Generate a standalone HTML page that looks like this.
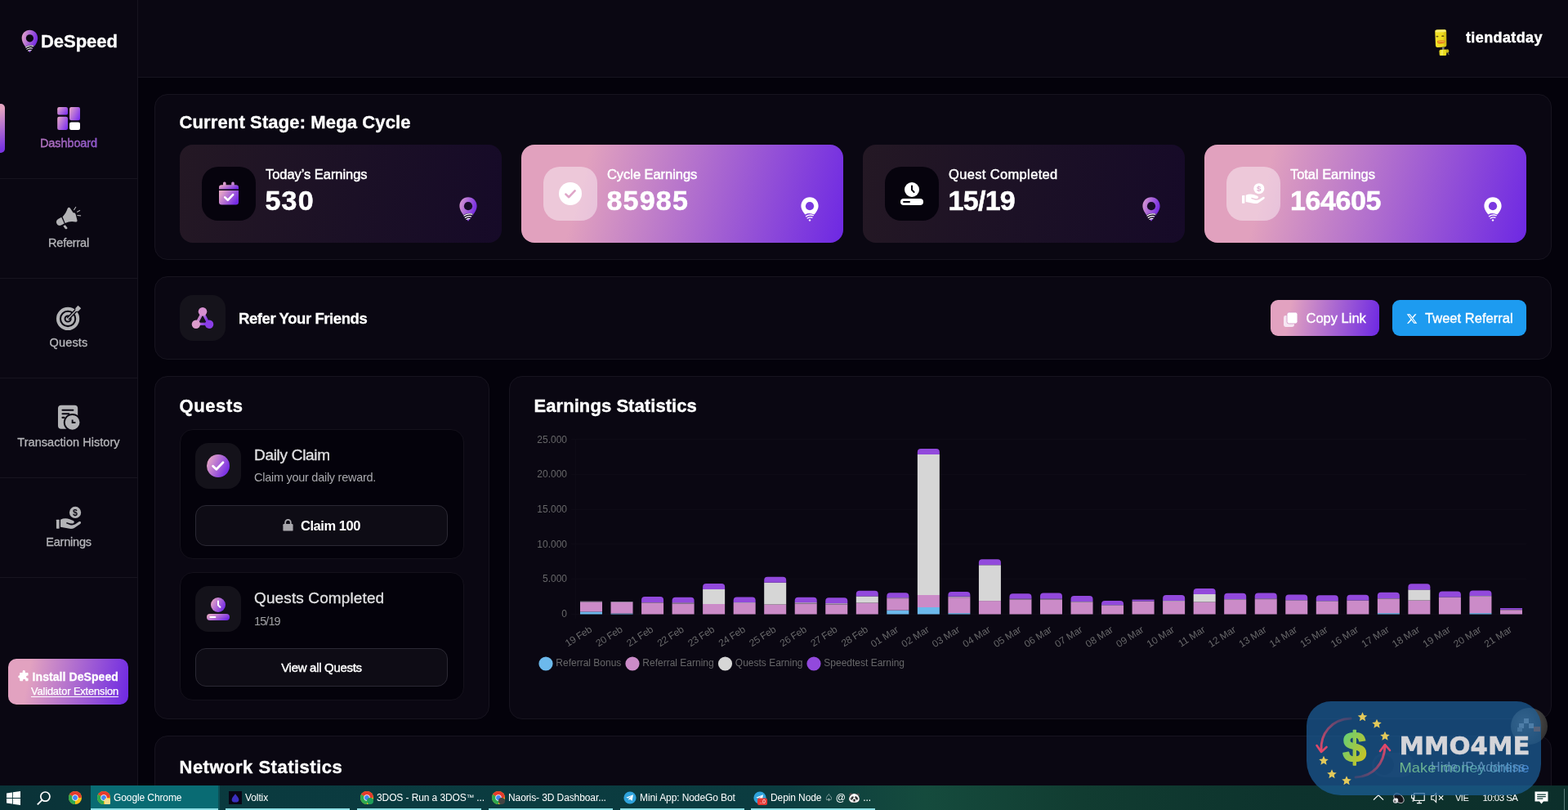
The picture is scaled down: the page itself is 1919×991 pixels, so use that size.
<!DOCTYPE html>
<html lang="en">
<head>
<meta charset="utf-8">
<title>DeSpeed Dashboard</title>
<style>
*{box-sizing:border-box;margin:0;padding:0}
html,body{width:1919px;height:991px;overflow:hidden;background:#04020b}
body{position:relative;font-family:"Liberation Sans",sans-serif;color:#fff;-webkit-font-smoothing:antialiased}
.abs{position:absolute}
svg{display:block;overflow:visible}
.t{position:absolute;white-space:nowrap;line-height:1}

/* ---------- sidebar ---------- */
#sidebar{position:absolute;left:0;top:0;width:169px;height:961px;background:#0a0712;border-right:1px solid #17141f}
#header{position:absolute;left:169px;top:0;width:1750px;height:95px;background:#0a0712;border-bottom:1px solid #17141f}
.navsep{position:absolute;left:0;width:168px;height:1px;background:#17141f}
.navlabel{position:absolute;left:0;width:168px;text-align:center;font-size:14.5px;line-height:18px;color:#b6b6ba;letter-spacing:-0.2px;-webkit-text-stroke:0.3px #b6b6ba}
.navicon{position:absolute;left:69px;width:30px;height:30px}
#active-bar{position:absolute;left:0;top:127px;width:5.5px;height:60px;border-radius:0 5px 5px 0;background:linear-gradient(160deg,#e3a3c0 10%,#7a34e0 90%)}
#install{position:absolute;left:10px;top:806px;width:147px;height:56px;border-radius:10px;background:linear-gradient(100deg,#e2a2c0 18%,#6d28e3 100%)}

/* ---------- cards ---------- */
.card{position:absolute;background:#0a0712;border:1px solid #17141f;border-radius:16px}
.h2{position:absolute;white-space:nowrap;font-weight:700;font-size:22px;line-height:26px;letter-spacing:0.13px;color:#fff;-webkit-text-stroke:0.35px #fff}
.stat{position:absolute;top:177px;width:394px;height:120px;border-radius:16px}
.stat.dark{background:linear-gradient(100deg,#241824 0%,#1b1026 55%,#160a28 100%)}
.stat.lite{background:linear-gradient(105deg,#e1a1be 20%,#6d28e3 100%)}
.stat .ib{position:absolute;left:27px;top:27px;width:66px;height:66px;border-radius:20px}
.stat.dark .ib{background:#06030d}
.stat.lite .ib{background:rgba(255,255,255,.42)}
.stat .lbl{position:absolute;left:105px;top:26px;font-size:16.5px;line-height:20px;white-space:nowrap;color:#fff;letter-spacing:-0.05px;-webkit-text-stroke:0.45px #fff}
.stat .val{position:absolute;left:104.5px;top:48px;font-size:34px;line-height:40px;font-weight:700;white-space:nowrap;color:#fff;letter-spacing:1.2px;-webkit-text-stroke:0.5px #fff}
.stat .pin{position:absolute;left:341.8px;top:63.7px;width:22px;height:30px}

.qcard{position:absolute;left:220px;width:348px;background:#04020b;border:1px solid #14111b;border-radius:16px}
.qcard .ib{position:absolute;left:18px;top:16px;width:56px;height:56px;border-radius:16px;background:#14121a}
.qcard .ti{position:absolute;left:90px;font-size:19px;line-height:22px;color:#e0e0e2;white-space:nowrap;letter-spacing:-0.2px;-webkit-text-stroke:0.3px #e0e0e2}
.qcard .su{position:absolute;left:90px;font-size:14.5px;line-height:18px;color:#a8a8ad;white-space:nowrap;letter-spacing:-0.2px}
.qbtn{position:absolute;left:18px;width:309px;height:50px;border-radius:13px;background:#0e0c15;border:1px solid #2b2934;font-weight:700;font-size:15.5px;color:#fff;display:flex;align-items:center;justify-content:center;white-space:nowrap;letter-spacing:-0.2px}

/* chart */
#chart text{font-family:"Liberation Sans",sans-serif;font-size:12px;fill:#676769}

/* taskbar */
#taskbar{position:absolute;left:0;top:961px;width:1919px;height:30px;background:linear-gradient(90deg,#0a3237 0%,#0a3a3f 15%,#0b3c40 50%,#154b3d 59%,#113c31 69%,#0d332d 82%,#0c2f2b 100%);font-size:12px;color:#fff}
.tb-item{position:absolute;top:0;height:30px;line-height:30px;white-space:nowrap;color:#fff;font-size:12px;letter-spacing:-0.1px}
.tb-ul{position:absolute;top:28px;height:2px;background:#8fe0e6}
</style>
</head>
<body>

<!-- ================= HEADER ================= -->
<div id="header">
  <!-- avatar -->
  <svg class="abs" style="left:1571px;top:25px" width="50" height="50" viewBox="0 0 991 991">
    <defs>
      <linearGradient id="gav" x1="0" y1="0" x2="1" y2="0"><stop offset="0" stop-color="#f2e22a"/><stop offset="0.65" stop-color="#efdc1c"/><stop offset="1" stop-color="#c9b312"/></linearGradient>
    </defs>
    <path d="M322 266Q318 231 360 228L560 224Q598 224 598 266L602 600Q600 640 560 644L380 652Q340 652 336 615Z" fill="url(#gav)"/>
    <path d="M330 260Q330 230 372 228L556 224Q590 226 590 254Q590 280 552 282L372 288Q332 288 330 260Z" fill="#f7ee72"/>
    <ellipse cx="376" cy="388" rx="30" ry="17" fill="#6e5a12"/>
    <ellipse cx="510" cy="380" rx="32" ry="17" fill="#6e5a12"/>
    <path d="M378 496Q470 470 566 492Q572 540 540 552Q460 578 392 556Q372 530 378 496Z" fill="#e27a1e"/>
    <path d="M400 520Q470 500 548 516" stroke="#f4d24a" stroke-width="18" fill="none"/>
    <rect x="496" y="648" width="50" height="76" fill="#77767c"/>
    <path d="M424 740Q430 706 470 708L590 704Q602 706 602 730L598 838Q596 852 570 852L450 850Q430 850 430 826Z" fill="#eadb20"/>
    <path d="M470 716L520 712L512 846L462 846Z" fill="#f6ec56"/>
    <ellipse cx="622" cy="744" rx="38" ry="46" fill="#c9b814"/>
    <path d="M636 786L656 826" stroke="#6f6a52" stroke-width="20" stroke-linecap="round"/>
  </svg>
  <div class="t" style="left:1625px;top:35px;font-size:18px;line-height:22px;font-weight:700;letter-spacing:0.38px;-webkit-text-stroke:0.4px #fff">tiendatday</div>
</div>

<!-- ================= SIDEBAR ================= -->
<div id="sidebar">
  <!-- logo -->
  <svg class="abs" style="left:0;top:20px" width="170" height="88" viewBox="0 0 1914 991">
    <defs>
      <linearGradient id="gpin" x1="0" y1="0" x2="1" y2="0.35">
        <stop offset="0.05" stop-color="#e3a3c8"/><stop offset="0.95" stop-color="#7a30e2"/>
      </linearGradient>
    </defs>
    <path d="M410 188C472 188 520 236 520 300C520 372 452 438 410 498C368 438 300 372 300 300C300 236 348 188 410 188Z" fill="url(#gpin)"/>
    <circle cx="410" cy="302" r="52" fill="#0a0712"/>
    <path d="M340 425Q400 385 476 405L430 470Q408 462 388 478Z" fill="#0a0712"/>
    <path d="M356 428Q402 396 458 410" stroke="#fff" stroke-width="13" fill="none" stroke-linecap="round"/>
    <path d="M370 452Q404 428 444 438" stroke="#fff" stroke-width="12" fill="none" stroke-linecap="round"/>
    <path d="M386 474Q406 460 430 465" stroke="#fff" stroke-width="11" fill="none" stroke-linecap="round"/>
  </svg>
  <div class="t" style="left:50px;top:38px;font-size:22px;line-height:26px;font-weight:700;letter-spacing:-0.05px;-webkit-text-stroke:0.3px #fff">DeSpeed</div>

  <div id="active-bar"></div>

  <!-- Dashboard -->
  <svg class="abs" style="left:70px;top:131px" width="28" height="28" viewBox="0 0 28 28">
    <defs>
      <linearGradient id="gd" x1="0" y1="0.2" x2="1" y2="0.8">
        <stop offset="0" stop-color="#e0a0c8"/><stop offset="1" stop-color="#7c2ff0"/>
      </linearGradient>
    </defs>
    <rect x="0.2" y="0" width="12.8" height="9.6" rx="2.2" fill="url(#gd)"/>
    <rect x="15" y="0" width="13" height="16.2" rx="2.2" fill="url(#gd)"/>
    <rect x="0.2" y="11.8" width="12.8" height="16.2" rx="2.2" fill="url(#gd)"/>
    <rect x="15" y="18.4" width="13" height="9.6" rx="2.2" fill="#fff"/>
  </svg>
  <div class="navlabel" style="top:166px;-webkit-text-stroke:0.3px #9c62c0;letter-spacing:-0.1px"><span style="background:linear-gradient(90deg,#b878b4,#8650cc);-webkit-background-clip:text;background-clip:text;color:transparent">Dashboard</span></div>
  <div class="navsep" style="top:218px"></div>

  <!-- Referral -->
  <svg class="abs" style="left:40px;top:240px" width="90" height="70" viewBox="0 0 1274 991">
    <g fill="#b3b3b6">
      <path d="M498 366L446 392C408 412 402 448 418 478C436 512 470 514 500 500L548 476Z"/>
      <path d="M518 356C560 316 590 262 604 214Q622 180 648 206L702 286Q742 282 746 318L772 420Q774 452 740 446C680 430 620 440 562 466Z"/>
      <path d="M528 516L562 498L600 546Q606 566 586 570Q572 574 562 562Z"/>
    </g>
    <g stroke="#b3b3b6" stroke-width="15" stroke-linecap="round" fill="none">
      <path d="M716 236L746 190"/>
      <path d="M772 272L816 248"/>
      <path d="M776 334L830 338"/>
    </g>
  </svg>
  <div class="navlabel" style="top:288px">Referral</div>
  <div class="navsep" style="top:340px"></div>

  <!-- Quests -->
  <svg class="abs" style="left:40px;top:362px" width="90" height="70" viewBox="0 0 1274 991">
    <circle cx="610" cy="396" r="172" fill="none" stroke="#b3b3b6" stroke-width="56"/>
    <circle cx="610" cy="396" r="90" fill="none" stroke="#b3b3b6" stroke-width="50"/>
    <circle cx="610" cy="396" r="36" fill="#b3b3b6"/>
    <path d="M610 396L790 212" stroke="#0a0712" stroke-width="58" fill="none"/>
    <path d="M614 392L752 252" stroke="#b3b3b6" stroke-width="20" stroke-linecap="round" fill="none"/>
    <path d="M786 168L838 216L790 264L738 268L742 214Z" fill="#b3b3b6"/>
  </svg>
  <div class="navlabel" style="top:410px;letter-spacing:0.15px">Quests</div>
  <div class="navsep" style="top:462px"></div>

  <!-- Transaction History -->
  <svg class="abs" style="left:10px;top:484px" width="150" height="70" viewBox="0 0 1919 896">
    <rect x="780" y="150" width="310" height="372" rx="52" fill="#b3b3b6"/>
    <g stroke="#0a0712" stroke-width="26" stroke-linecap="round" fill="none">
      <path d="M850 228H1016"/><path d="M850 286H950"/><path d="M850 344H876"/>
    </g>
    <circle cx="1005" cy="420" r="126" fill="#b3b3b6" stroke="#0a0712" stroke-width="24"/>
    <path d="M1006 378V422H1054" stroke="#0a0712" stroke-width="24" fill="none"/>
  </svg>
  <div class="navlabel" style="top:532px;letter-spacing:0.05px">Transaction History</div>
  <div class="navsep" style="top:584px"></div>

  <!-- Earnings -->
  <svg class="abs" style="left:40px;top:606px" width="90" height="70" viewBox="0 0 1274 991">
    <g fill="#b3b3b6">
      <circle cx="737" cy="297" r="101"/>
      <rect x="410" y="422" width="52" height="154" rx="6"/>
      <path d="M482 420Q560 384 640 414L702 438Q736 456 706 484Q690 496 640 484L590 468L580 486L648 512Q700 524 740 500L800 458Q828 444 836 466Q840 480 824 494L720 566Q690 584 640 578L482 548Z"/>
    </g>
    <text x="737" y="347" text-anchor="middle" font-family="Liberation Sans, sans-serif" font-weight="700" font-size="150" fill="#0a0712">$</text>
  </svg>
  <div class="navlabel" style="top:654px">Earnings</div>
  <div class="navsep" style="top:706px"></div>

  <!-- Install button -->
  <div id="install">
    <svg class="abs" style="left:12.7px;top:15.2px" width="13.2" height="13" viewBox="0 0 15 15">
      <path d="M5.2 0.6a1.9 1.9 0 0 1 3.8 0.4v1.3h3.2a1 1 0 0 1 1 1v3h-1a1.9 1.9 0 0 0 0 3.8h1v3a1 1 0 0 1-1 1H9.4v-1a1.9 1.9 0 0 0-3.8 0v1H2.2a1 1 0 0 1-1-1V9.9H0.9a1.9 1.9 0 0 1 0-3.8h0.3V3.3a1 1 0 0 1 1-1h3z" fill="#fff"/>
    </svg>
    <div class="t" style="left:29.6px;top:12.6px;font-size:14px;line-height:18px;font-weight:700;letter-spacing:0.07px;-webkit-text-stroke:0.3px #fff">Install DeSpeed</div>
    <div class="t" style="right:12px;top:31.6px;font-size:12.8px;line-height:15px;text-decoration:underline;text-underline-offset:1.5px;letter-spacing:-0.12px;-webkit-text-stroke:0.25px #fff">Validator Extension</div>
  </div>
</div>

<!-- ================= MAIN ================= -->
<div id="main">
  <svg width="0" height="0" style="position:absolute">
    <defs>
      <linearGradient id="gpin2" x1="0" y1="0" x2="1" y2="0.4"><stop offset="0.05" stop-color="#d99ad0"/><stop offset="0.95" stop-color="#7a30e2"/></linearGradient>
      <linearGradient id="gic" x1="0" y1="0.25" x2="1" y2="0.75"><stop offset="0.05" stop-color="#e2a2c6"/><stop offset="0.95" stop-color="#742ae6"/></linearGradient>
    </defs>
  </svg>

  <!-- ===== Current stage ===== -->
  <div class="card" style="left:189px;top:115px;width:1710px;height:203px"></div>
  <div class="h2" style="left:219.5px;top:137px">Current Stage: Mega Cycle</div>

  <div class="stat dark" style="left:220px">
    <div class="ib">
      <svg class="abs" style="left:20px;top:18px" width="26" height="29" viewBox="0 0 26 29">
        <rect x="6" y="0.5" width="3.6" height="6" rx="1.6" fill="#d89ccc"/>
        <rect x="16.2" y="0.5" width="3.6" height="6" rx="1.6" fill="#c588d0"/>
        <path d="M1 7.5Q1 4.2 4.3 4.2H21.7Q25 4.2 25 7.5V9.6H1Z" fill="url(#gic)"/>
        <path d="M1 11H25V25.2Q25 28.5 21.7 28.5H4.3Q1 28.5 1 25.2Z" fill="url(#gic)"/>
        <path d="M8.2 19.4L11.8 22.8L18.2 16.2" stroke="#fff" stroke-width="2.6" fill="none" stroke-linecap="round" stroke-linejoin="round"/>
      </svg>
    </div>
    <div class="lbl">Today’s Earnings</div>
    <div class="val">530</div>
    <svg class="pin" viewBox="0 0 22 30"><path d="M11 0.3C17 0.3 21.6 4.9 21.6 11C21.6 17.8 15 24 11 29.8C7 24 0.4 17.8 0.4 11C0.4 4.9 5 0.3 11 0.3Z" fill="url(#gpin2)"/><circle cx="11" cy="11.2" r="5.1" fill="#170c27"/><path d="M4.4 22.6Q10.2 18.8 17.4 20.8L12.8 27Q10.8 26.2 9 27.8Z" fill="#170c27"/><g fill="none" stroke="#fff" stroke-linecap="round"><path d="M6 23Q10.4 19.9 15.8 21.2" stroke-width="1.3"/><path d="M7.3 25.3Q10.6 23 14.4 23.9" stroke-width="1.2"/><path d="M8.9 27.4Q10.8 26 13 26.5" stroke-width="1.1"/></g></svg>
  </div>

  <div class="stat lite" style="left:638px">
    <div class="ib">
      <svg class="abs" style="left:19px;top:19px" width="28" height="28" viewBox="0 0 28 28">
        <circle cx="14" cy="14" r="14" fill="#fff"/>
        <path d="M8.4 14.6L12.2 18.2L19.6 10.4" stroke="#dfa6c8" stroke-width="2.6" fill="none" stroke-linecap="round" stroke-linejoin="round"/>
      </svg>
    </div>
    <div class="lbl">Cycle Earnings</div>
    <div class="val">85985</div>
    <svg class="pin" viewBox="0 0 22 30"><path d="M11 0.3C17 0.3 21.6 4.9 21.6 11C21.6 15 19 18.6 16.4 21.6Q10.4 18.6 5.4 21.4C2.9 18.4 0.4 15 0.4 11C0.4 4.9 5 0.3 11 0.3Z" fill="#fff"/><circle cx="11" cy="11.2" r="5.1" fill="#7a38e0"/><g fill="none" stroke="#fff" stroke-linecap="round"><path d="M6.6 23.6Q10.6 21 15.2 22.6" stroke-width="1.5"/><path d="M8.2 26Q10.8 24.2 13.8 25.2" stroke-width="1.4"/></g><circle cx="11" cy="28.4" r="1.2" fill="#fff"/></svg>
  </div>

  <div class="stat dark" style="left:1056px">
    <div class="ib">
      <svg class="abs" style="left:19px;top:19px" width="28" height="28" viewBox="0 0 28 28">
        <circle cx="14" cy="9" r="9" fill="#fff"/>
        <path d="M14 4.4V9.4L16.6 12" stroke="#06030d" stroke-width="2" fill="none" stroke-linecap="round"/>
        <rect x="0" y="20" width="28" height="8" rx="4" fill="#fff"/>
        <rect x="3" y="23" width="9" height="2" rx="1" fill="#06030d"/>
      </svg>
    </div>
    <div class="lbl" style="letter-spacing:0.35px">Quest Completed</div>
    <div class="val" style="letter-spacing:-0.7px">15/19</div>
    <svg class="pin" viewBox="0 0 22 30"><path d="M11 0.3C17 0.3 21.6 4.9 21.6 11C21.6 17.8 15 24 11 29.8C7 24 0.4 17.8 0.4 11C0.4 4.9 5 0.3 11 0.3Z" fill="url(#gpin2)"/><circle cx="11" cy="11.2" r="5.1" fill="#170c27"/><path d="M4.4 22.6Q10.2 18.8 17.4 20.8L12.8 27Q10.8 26.2 9 27.8Z" fill="#170c27"/><g fill="none" stroke="#fff" stroke-linecap="round"><path d="M6 23Q10.4 19.9 15.8 21.2" stroke-width="1.3"/><path d="M7.3 25.3Q10.6 23 14.4 23.9" stroke-width="1.2"/><path d="M8.9 27.4Q10.8 26 13 26.5" stroke-width="1.1"/></g></svg>
  </div>

  <div class="stat lite" style="left:1474px">
    <div class="ib">
      <svg class="abs" style="left:19px;top:20px" width="28" height="25.2" viewBox="0 0 30 27">
        <g fill="#fff">
          <circle cx="22.3" cy="7.2" r="7"/>
          <rect x="0" y="16" width="3.6" height="10.6" rx="0.5"/>
          <path d="M5 15.8Q10.5 13.4 16 15.4L20.3 17Q22.6 18.3 20.6 20.2Q19.5 21 16 20.2L12.6 19.1L11.9 20.3L16.6 22.1Q20.2 22.9 23 21.3L27.2 18.4Q29.1 17.5 29.7 19Q30 20 28.8 20.9L21.6 25.9Q19.5 27.1 16 26.7L5 24.6Z"/>
        </g>
        <text x="22.3" y="10.8" text-anchor="middle" font-family="Liberation Sans, sans-serif" font-weight="700" font-size="10.5" fill="#e3b3d3">$</text>
      </svg>
    </div>
    <div class="lbl">Total Earnings</div>
    <div class="val" style="letter-spacing:-0.4px;left:105px">164605</div>
    <svg class="pin" viewBox="0 0 22 30"><path d="M11 0.3C17 0.3 21.6 4.9 21.6 11C21.6 15 19 18.6 16.4 21.6Q10.4 18.6 5.4 21.4C2.9 18.4 0.4 15 0.4 11C0.4 4.9 5 0.3 11 0.3Z" fill="#fff"/><circle cx="11" cy="11.2" r="5.1" fill="#7a38e0"/><g fill="none" stroke="#fff" stroke-linecap="round"><path d="M6.6 23.6Q10.6 21 15.2 22.6" stroke-width="1.5"/><path d="M8.2 26Q10.8 24.2 13.8 25.2" stroke-width="1.4"/></g><circle cx="11" cy="28.4" r="1.2" fill="#fff"/></svg>
  </div>

  <!-- ===== Refer ===== -->
  <div class="card" style="left:189px;top:338px;width:1710px;height:102px"></div>
  <div class="abs" style="left:220px;top:361px;width:56px;height:56px;border-radius:16px;background:#15131b">
    <svg class="abs" style="left:14px;top:14px" width="28" height="28" viewBox="0 0 28 28">
      <path d="M14 7L6.4 21.4H21.6Z" fill="none" stroke="url(#gic)" stroke-width="3.4" stroke-linejoin="round"/>
      <circle cx="14" cy="6.3" r="5.3" fill="#d690d0"/>
      <circle cx="5.9" cy="21.8" r="5.2" fill="#dc9ccc"/>
      <circle cx="22.1" cy="21.8" r="5.2" fill="#8a3ee6"/>
    </svg>
  </div>
  <div class="t" style="left:292px;top:379px;font-size:18.5px;line-height:22px;font-weight:700;letter-spacing:-0.42px;-webkit-text-stroke:0.3px #fff">Refer Your Friends</div>

  <div class="abs" style="left:1555px;top:367px;width:133px;height:44px;border-radius:9px;background:linear-gradient(100deg,#e2a2c0 18%,#6d28e3 100%)">
    <svg class="abs" style="left:16px;top:15px" width="17" height="18" viewBox="0 0 17 18">
      <rect x="0" y="4" width="13" height="14" rx="2.4" fill="#f6e6f2"/>
      <rect x="4" y="0" width="13" height="14" rx="2.4" fill="#fff" stroke="#d596c6" stroke-width="0.9"/>
    </svg>
    <div class="t" style="left:43.5px;top:11px;font-size:16.5px;line-height:22px;color:#fff;letter-spacing:0px;-webkit-text-stroke:0.35px #fff">Copy Link</div>
  </div>
  <div class="abs" style="left:1704px;top:367px;width:164px;height:44px;border-radius:9px;background:#1d9bf0">
    <svg class="abs" style="left:17px;top:16px" width="14" height="14" viewBox="0 0 24 24">
      <path d="M18.244 2.25h3.308l-7.227 8.26 8.502 11.24H16.17l-5.214-6.817L4.99 21.75H1.68l7.73-8.835L1.254 2.25H8.08l4.713 6.231zm-1.161 17.52h1.833L7.084 4.126H5.117z" fill="#fff"/>
    </svg>
    <div class="t" style="left:40px;top:11px;font-size:16.5px;line-height:22px;color:#fff;letter-spacing:0.03px;-webkit-text-stroke:0.35px #fff">Tweet Referral</div>
  </div>

  <!-- ===== Quests ===== -->
  <div class="card" style="left:189px;top:460px;width:410px;height:420px"></div>
  <div class="h2" style="left:219.5px;top:484px;letter-spacing:0.6px">Quests</div>

  <div class="qcard" style="top:525px;height:159px">
    <div class="ib">
      <svg class="abs" style="left:14px;top:14px" width="28" height="28" viewBox="0 0 28 28">
        <circle cx="14" cy="14" r="14" fill="url(#gic)"/>
        <path d="M7.6 14.2L11.8 18.2L20 9.8" stroke="#fff" stroke-width="2.8" fill="none" stroke-linecap="round" stroke-linejoin="round"/>
      </svg>
    </div>
    <div class="ti" style="top:20px;letter-spacing:-0.3px">Daily Claim</div>
    <div class="su" style="top:49px;letter-spacing:-0.27px">Claim your daily reward.</div>
    <div class="qbtn" style="top:92px;font-size:16.5px;letter-spacing:-0.45px">
      <svg width="13" height="15" viewBox="0 0 13 15" style="margin-right:9px;margin-top:-1px">
        <path d="M3.2 6V4.2a3.3 3.3 0 0 1 6.6 0V6" stroke="#a9a8ad" stroke-width="1.8" fill="none"/>
        <rect x="0.4" y="6" width="12.2" height="8.6" rx="1.2" fill="#a9a8ad"/>
      </svg>
      <span>Claim 100</span>
    </div>
  </div>

  <div class="qcard" style="top:700px;height:157px">
    <div class="ib">
      <svg class="abs" style="left:14px;top:14px" width="28" height="28" viewBox="0 0 28 28">
        <circle cx="14" cy="9" r="9" fill="url(#gic)"/>
        <path d="M14 4.6V9.4L16.4 11.8" stroke="#fff" stroke-width="2" fill="none" stroke-linecap="round"/>
        <rect x="0" y="20" width="28" height="8" rx="4" fill="url(#gic)"/>
        <rect x="3.4" y="23" width="8" height="2" rx="1" fill="#fff"/>
      </svg>
    </div>
    <div class="ti" style="top:20px;letter-spacing:0.12px">Quests Completed</div>
    <div class="su" style="top:50px;letter-spacing:-0.9px;color:#a0a0a4">15/19</div>
    <div class="qbtn" style="top:92px;height:47px;font-weight:400;font-size:15px;letter-spacing:-0.3px;-webkit-text-stroke:0.4px #fff">View all Quests</div>
  </div>

  <!-- ===== Earnings statistics ===== -->
  <div class="card" style="left:623px;top:460px;width:1276px;height:420px"></div>
  <div class="h2" style="left:653.5px;top:484px;letter-spacing:0.07px">Earnings Statistics</div>
  <!--CHART-START-->
<svg id="chart" class="abs" style="left:0;top:0" width="1919" height="961" viewBox="0 0 1919 961">
<g stroke="#0e0b16" stroke-width="1" shape-rendering="crispEdges">
<path d="M699 751.0H1868"/>
<path d="M699 708.4H1868"/>
<path d="M699 665.8H1868"/>
<path d="M699 623.1H1868"/>
<path d="M699 580.5H1868"/>
<path d="M699 537.9H1868"/>
<path d="M704.5 537V757"/>
</g>
<g text-anchor="end">
<text x="694" y="755.0">0</text>
<text x="694" y="711.9">5.000</text>
<text x="694" y="669.9">10.000</text>
<text x="694" y="627.1">15.000</text>
<text x="694" y="584.2">20.000</text>
<text x="694" y="542.0">25.000</text>
</g>
<rect x="710.00" y="748.40" width="27" height="3.10" fill="#6cb9ec"/>
<rect x="710.00" y="736.70" width="27" height="11.70" fill="#cb8bc8"/>
<rect x="710.00" y="735.70" width="27" height="1.00" fill="#a996b4"/>
<rect x="747.53" y="750.50" width="27" height="1.00" fill="#6cb9ec"/>
<rect x="747.53" y="736.90" width="27" height="13.60" fill="#cb8bc8"/>
<rect x="747.53" y="736.10" width="27" height="0.80" fill="#a996b4"/>
<rect x="785.07" y="737.50" width="27" height="14.00" fill="#cb8bc8"/>
<rect x="785.07" y="736.90" width="27" height="0.60" fill="#a996b4"/>
<path d="M785.07 736.90V734.10Q785.07 730.10 789.07 730.10H808.07Q812.07 730.10 812.07 734.10V736.90Z" fill="#9249dc"/>
<rect x="822.60" y="738.50" width="27" height="13.00" fill="#cb8bc8"/>
<rect x="822.60" y="737.20" width="27" height="1.30" fill="#a996b4"/>
<path d="M822.60 737.20V734.70Q822.60 730.70 826.60 730.70H845.60Q849.60 730.70 849.60 734.70V737.20Z" fill="#9249dc"/>
<rect x="860.13" y="739.00" width="27" height="12.50" fill="#cb8bc8"/>
<rect x="860.13" y="721.00" width="27" height="18.00" fill="#d6d6d6"/>
<path d="M860.13 721.00V718.00Q860.13 714.00 864.13 714.00H883.13Q887.13 714.00 887.13 718.00V721.00Z" fill="#9249dc"/>
<rect x="897.66" y="738.00" width="27" height="13.50" fill="#cb8bc8"/>
<rect x="897.66" y="737.00" width="27" height="1.00" fill="#a996b4"/>
<path d="M897.66 737.00V734.50Q897.66 730.50 901.66 730.50H920.66Q924.66 730.50 924.66 734.50V737.00Z" fill="#9249dc"/>
<rect x="935.20" y="739.50" width="27" height="12.00" fill="#cb8bc8"/>
<rect x="935.20" y="712.75" width="27" height="26.75" fill="#d6d6d6"/>
<path d="M935.20 712.75V709.75Q935.20 705.75 939.20 705.75H958.20Q962.20 705.75 962.20 709.75V712.75Z" fill="#9249dc"/>
<rect x="972.73" y="738.50" width="27" height="13.00" fill="#cb8bc8"/>
<rect x="972.73" y="737.00" width="27" height="1.50" fill="#a996b4"/>
<path d="M972.73 737.00V734.75Q972.73 730.75 976.73 730.75H995.73Q999.73 730.75 999.73 734.75V737.00Z" fill="#9249dc"/>
<rect x="1010.26" y="739.50" width="27" height="12.00" fill="#cb8bc8"/>
<rect x="1010.26" y="738.00" width="27" height="1.50" fill="#a996b4"/>
<path d="M1010.26 738.00V735.25Q1010.26 731.25 1014.26 731.25H1033.26Q1037.26 731.25 1037.26 735.25V738.00Z" fill="#9249dc"/>
<rect x="1047.80" y="737.50" width="27" height="14.00" fill="#cb8bc8"/>
<rect x="1047.80" y="729.50" width="27" height="8.00" fill="#d6d6d6"/>
<path d="M1047.80 729.50V726.75Q1047.80 722.75 1051.80 722.75H1070.80Q1074.80 722.75 1074.80 726.75V729.50Z" fill="#9249dc"/>
<rect x="1085.33" y="746.60" width="27" height="4.90" fill="#6cb9ec"/>
<rect x="1085.33" y="732.10" width="27" height="14.50" fill="#cb8bc8"/>
<rect x="1085.33" y="731.20" width="27" height="0.90" fill="#a996b4"/>
<path d="M1085.33 731.20V729.20Q1085.33 725.20 1089.33 725.20H1108.33Q1112.33 725.20 1112.33 729.20V731.20Z" fill="#9249dc"/>
<rect x="1122.86" y="743.00" width="27" height="8.50" fill="#6cb9ec"/>
<rect x="1122.86" y="728.00" width="27" height="15.00" fill="#cb8bc8"/>
<rect x="1122.86" y="556.00" width="27" height="172.00" fill="#d6d6d6"/>
<path d="M1122.86 556.00V553.00Q1122.86 549.00 1126.86 549.00H1145.86Q1149.86 549.00 1149.86 553.00V556.00Z" fill="#9249dc"/>
<rect x="1160.40" y="750.10" width="27" height="1.40" fill="#6cb9ec"/>
<rect x="1160.40" y="731.10" width="27" height="19.00" fill="#cb8bc8"/>
<rect x="1160.40" y="729.70" width="27" height="1.40" fill="#a996b4"/>
<path d="M1160.40 729.70V727.90Q1160.40 723.90 1164.40 723.90H1183.40Q1187.40 723.90 1187.40 727.90V729.70Z" fill="#9249dc"/>
<rect x="1197.93" y="735.10" width="27" height="16.40" fill="#cb8bc8"/>
<rect x="1197.93" y="691.30" width="27" height="43.80" fill="#d6d6d6"/>
<path d="M1197.93 691.30V688.30Q1197.93 684.30 1201.93 684.30H1220.93Q1224.93 684.30 1224.93 688.30V691.30Z" fill="#9249dc"/>
<rect x="1235.46" y="733.50" width="27" height="18.00" fill="#cb8bc8"/>
<rect x="1235.46" y="732.50" width="27" height="1.00" fill="#a996b4"/>
<path d="M1235.46 732.50V730.20Q1235.46 726.20 1239.46 726.20H1258.46Q1262.46 726.20 1262.46 730.20V732.50Z" fill="#9249dc"/>
<rect x="1272.99" y="733.50" width="27" height="18.00" fill="#cb8bc8"/>
<rect x="1272.99" y="732.50" width="27" height="1.00" fill="#a996b4"/>
<path d="M1272.99 732.50V729.60Q1272.99 725.60 1276.99 725.60H1295.99Q1299.99 725.60 1299.99 729.60V732.50Z" fill="#9249dc"/>
<rect x="1310.53" y="736.80" width="27" height="14.70" fill="#cb8bc8"/>
<rect x="1310.53" y="736.00" width="27" height="0.80" fill="#a996b4"/>
<path d="M1310.53 736.00V733.10Q1310.53 729.10 1314.53 729.10H1333.53Q1337.53 729.10 1337.53 733.10V736.00Z" fill="#9249dc"/>
<rect x="1348.06" y="741.00" width="27" height="10.50" fill="#cb8bc8"/>
<rect x="1348.06" y="740.20" width="27" height="0.80" fill="#a996b4"/>
<path d="M1348.06 740.20V739.00Q1348.06 735.00 1352.06 735.00H1371.06Q1375.06 735.00 1375.06 739.00V740.20Z" fill="#9249dc"/>
<rect x="1385.59" y="736.00" width="27" height="15.50" fill="#cb8bc8"/>
<rect x="1385.59" y="735.50" width="27" height="0.50" fill="#a996b4"/>
<rect x="1385.59" y="733.60" width="27" height="1.90" fill="#9249dc"/>
<rect x="1423.13" y="736.00" width="27" height="15.50" fill="#cb8bc8"/>
<rect x="1423.13" y="735.00" width="27" height="1.00" fill="#a996b4"/>
<path d="M1423.13 735.00V732.00Q1423.13 728.00 1427.13 728.00H1446.13Q1450.13 728.00 1450.13 732.00V735.00Z" fill="#9249dc"/>
<rect x="1460.66" y="736.50" width="27" height="15.00" fill="#cb8bc8"/>
<rect x="1460.66" y="727.00" width="27" height="9.50" fill="#d6d6d6"/>
<path d="M1460.66 727.00V724.00Q1460.66 720.00 1464.66 720.00H1483.66Q1487.66 720.00 1487.66 724.00V727.00Z" fill="#9249dc"/>
<rect x="1498.19" y="733.80" width="27" height="17.70" fill="#cb8bc8"/>
<rect x="1498.19" y="733.00" width="27" height="0.80" fill="#a996b4"/>
<path d="M1498.19 733.00V729.80Q1498.19 725.80 1502.19 725.80H1521.19Q1525.19 725.80 1525.19 729.80V733.00Z" fill="#9249dc"/>
<rect x="1535.73" y="733.10" width="27" height="18.40" fill="#cb8bc8"/>
<rect x="1535.73" y="732.30" width="27" height="0.80" fill="#a996b4"/>
<path d="M1535.73 732.30V729.40Q1535.73 725.40 1539.73 725.40H1558.73Q1562.73 725.40 1562.73 729.40V732.30Z" fill="#9249dc"/>
<rect x="1573.26" y="735.00" width="27" height="16.50" fill="#cb8bc8"/>
<rect x="1573.26" y="734.20" width="27" height="0.80" fill="#a996b4"/>
<path d="M1573.26 734.20V731.60Q1573.26 727.60 1577.26 727.60H1596.26Q1600.26 727.60 1600.26 731.60V734.20Z" fill="#9249dc"/>
<rect x="1610.79" y="736.00" width="27" height="15.50" fill="#cb8bc8"/>
<rect x="1610.79" y="735.20" width="27" height="0.80" fill="#a996b4"/>
<path d="M1610.79 735.20V732.30Q1610.79 728.30 1614.79 728.30H1633.79Q1637.79 728.30 1637.79 732.30V735.20Z" fill="#9249dc"/>
<rect x="1648.33" y="735.00" width="27" height="16.50" fill="#cb8bc8"/>
<rect x="1648.33" y="734.40" width="27" height="0.60" fill="#a996b4"/>
<path d="M1648.33 734.40V731.80Q1648.33 727.80 1652.33 727.80H1671.33Q1675.33 727.80 1675.33 731.80V734.40Z" fill="#9249dc"/>
<rect x="1685.86" y="750.10" width="27" height="1.40" fill="#6cb9ec"/>
<rect x="1685.86" y="732.50" width="27" height="17.60" fill="#cb8bc8"/>
<rect x="1685.86" y="731.90" width="27" height="0.60" fill="#a996b4"/>
<path d="M1685.86 731.90V728.70Q1685.86 724.70 1689.86 724.70H1708.86Q1712.86 724.70 1712.86 728.70V731.90Z" fill="#9249dc"/>
<rect x="1723.39" y="734.50" width="27" height="17.00" fill="#cb8bc8"/>
<rect x="1723.39" y="721.40" width="27" height="13.10" fill="#d6d6d6"/>
<path d="M1723.39 721.40V718.30Q1723.39 714.30 1727.39 714.30H1746.39Q1750.39 714.30 1750.39 718.30V721.40Z" fill="#9249dc"/>
<rect x="1760.92" y="731.00" width="27" height="20.50" fill="#cb8bc8"/>
<rect x="1760.92" y="730.40" width="27" height="0.60" fill="#a996b4"/>
<path d="M1760.92 730.40V727.50Q1760.92 723.50 1764.92 723.50H1783.92Q1787.92 723.50 1787.92 727.50V730.40Z" fill="#9249dc"/>
<rect x="1798.46" y="750.10" width="27" height="1.40" fill="#6cb9ec"/>
<rect x="1798.46" y="730.00" width="27" height="20.10" fill="#cb8bc8"/>
<rect x="1798.46" y="729.10" width="27" height="0.90" fill="#a996b4"/>
<path d="M1798.46 729.10V726.50Q1798.46 722.50 1802.46 722.50H1821.46Q1825.46 722.50 1825.46 726.50V729.10Z" fill="#9249dc"/>
<rect x="1835.99" y="746.30" width="27" height="5.20" fill="#cb8bc8"/>
<rect x="1835.99" y="745.80" width="27" height="0.50" fill="#a996b4"/>
<rect x="1835.99" y="744.00" width="27" height="1.80" fill="#9249dc"/>
<text text-anchor="end" letter-spacing="-0.3" transform="translate(725.1,772.4) rotate(-32.5)">19 Feb</text>
<text text-anchor="end" letter-spacing="-0.3" transform="translate(762.6,772.4) rotate(-32.5)">20 Feb</text>
<text text-anchor="end" letter-spacing="-0.3" transform="translate(800.2,772.4) rotate(-32.5)">21 Feb</text>
<text text-anchor="end" letter-spacing="-0.3" transform="translate(837.7,772.4) rotate(-32.5)">22 Feb</text>
<text text-anchor="end" letter-spacing="-0.3" transform="translate(875.2,772.4) rotate(-32.5)">23 Feb</text>
<text text-anchor="end" letter-spacing="-0.3" transform="translate(912.8,772.4) rotate(-32.5)">24 Feb</text>
<text text-anchor="end" letter-spacing="-0.3" transform="translate(950.3,772.4) rotate(-32.5)">25 Feb</text>
<text text-anchor="end" letter-spacing="-0.3" transform="translate(987.8,772.4) rotate(-32.5)">26 Feb</text>
<text text-anchor="end" letter-spacing="-0.3" transform="translate(1025.4,772.4) rotate(-32.5)">27 Feb</text>
<text text-anchor="end" letter-spacing="-0.3" transform="translate(1062.9,772.4) rotate(-32.5)">28 Feb</text>
<text text-anchor="end" letter-spacing="-0.02" transform="translate(1100.4,772.4) rotate(-32.5)">01 Mar</text>
<text text-anchor="end" letter-spacing="-0.02" transform="translate(1138.0,772.4) rotate(-32.5)">02 Mar</text>
<text text-anchor="end" letter-spacing="-0.02" transform="translate(1175.5,772.4) rotate(-32.5)">03 Mar</text>
<text text-anchor="end" letter-spacing="-0.02" transform="translate(1213.0,772.4) rotate(-32.5)">04 Mar</text>
<text text-anchor="end" letter-spacing="-0.02" transform="translate(1250.6,772.4) rotate(-32.5)">05 Mar</text>
<text text-anchor="end" letter-spacing="-0.02" transform="translate(1288.1,772.4) rotate(-32.5)">06 Mar</text>
<text text-anchor="end" letter-spacing="-0.02" transform="translate(1325.6,772.4) rotate(-32.5)">07 Mar</text>
<text text-anchor="end" letter-spacing="-0.02" transform="translate(1363.2,772.4) rotate(-32.5)">08 Mar</text>
<text text-anchor="end" letter-spacing="-0.02" transform="translate(1400.7,772.4) rotate(-32.5)">09 Mar</text>
<text text-anchor="end" letter-spacing="-0.02" transform="translate(1438.2,772.4) rotate(-32.5)">10 Mar</text>
<text text-anchor="end" letter-spacing="-0.02" transform="translate(1475.8,772.4) rotate(-32.5)">11 Mar</text>
<text text-anchor="end" letter-spacing="-0.02" transform="translate(1513.3,772.4) rotate(-32.5)">12 Mar</text>
<text text-anchor="end" letter-spacing="-0.02" transform="translate(1550.8,772.4) rotate(-32.5)">13 Mar</text>
<text text-anchor="end" letter-spacing="-0.02" transform="translate(1588.4,772.4) rotate(-32.5)">14 Mar</text>
<text text-anchor="end" letter-spacing="-0.02" transform="translate(1625.9,772.4) rotate(-32.5)">15 Mar</text>
<text text-anchor="end" letter-spacing="-0.02" transform="translate(1663.4,772.4) rotate(-32.5)">16 Mar</text>
<text text-anchor="end" letter-spacing="-0.02" transform="translate(1701.0,772.4) rotate(-32.5)">17 Mar</text>
<text text-anchor="end" letter-spacing="-0.02" transform="translate(1738.5,772.4) rotate(-32.5)">18 Mar</text>
<text text-anchor="end" letter-spacing="-0.02" transform="translate(1776.0,772.4) rotate(-32.5)">19 Mar</text>
<text text-anchor="end" letter-spacing="-0.02" transform="translate(1813.6,772.4) rotate(-32.5)">20 Mar</text>
<text text-anchor="end" letter-spacing="-0.02" transform="translate(1851.1,772.4) rotate(-32.5)">21 Mar</text>
<circle cx="668.0" cy="812" r="8.6" fill="#6cb9ec"/>
<text x="680.3" y="815.2">Referral Bonus</text>
<circle cx="774.0" cy="812" r="8.6" fill="#cb8bc8"/>
<text x="786.3" y="815.2">Referral Earning</text>
<circle cx="887.5" cy="812" r="8.6" fill="#d6d6d6"/>
<text x="899.8" y="815.2">Quests Earning</text>
<circle cx="996.0" cy="812" r="8.6" fill="#9249dc"/>
<text x="1008.3" y="815.2">Speedtest Earning</text>
</svg>
  <!--CHART-END-->

  <!-- ===== Network statistics ===== -->
  <div class="card" style="left:189px;top:900px;width:1710px;height:120px"></div>
  <div class="h2" style="left:219.5px;top:926px;letter-spacing:0.5px">Network Statistics</div>
</div>

<!-- ================= TASKBAR ================= -->
<div id="taskbar">
  <div class="abs" style="left:111px;top:0;width:156px;height:30px;background:#096b73"></div>
  <div class="abs" style="left:267px;top:0;width:2px;height:30px;background:#0c5057"></div>
  <!-- start -->
  <svg class="abs" style="left:8px;top:7px" width="17" height="17" viewBox="0 0 17 17"><path d="M0 2.4L6.9 1.4V8H0ZM7.8 1.3L17 0V8H7.8ZM0 8.9H6.9V15.5L0 14.5ZM7.8 8.9H17V17L7.8 15.7Z" fill="#fff"/></svg>
  <!-- search -->
  <svg class="abs" style="left:45px;top:7px" width="17" height="17" viewBox="0 0 17 17"><circle cx="10.4" cy="6.6" r="5.6" fill="none" stroke="#fff" stroke-width="1.7"/><path d="M6.4 10.8L0.8 16.4" stroke="#fff" stroke-width="1.9"/></svg>
  <svg class="abs" style="left:84px;top:7px" width="16" height="16" viewBox="0 0 16 16"><circle cx="8" cy="8" r="8" fill="#fbc116"/><path d="M8 8L1.1 4A8 8 0 0 1 14.9 4Z" fill="#e33b2e"/><path d="M8 8L1.1 4A8 8 0 0 0 8 16Z" fill="#2da94f"/><path d="M8 8H15.6A8 8 0 0 0 14.9 4H8Z" fill="#e33b2e"/><circle cx="8" cy="8" r="3.7" fill="#fff"/><circle cx="8" cy="8" r="2.9" fill="#4285f4"/></svg>
  <svg class="abs" style="left:119px;top:7px" width="16" height="16" viewBox="0 0 16 16"><circle cx="8" cy="8" r="8" fill="#fbc116"/><path d="M8 8L1.1 4A8 8 0 0 1 14.9 4Z" fill="#e33b2e"/><path d="M8 8L1.1 4A8 8 0 0 0 8 16Z" fill="#2da94f"/><path d="M8 8H15.6A8 8 0 0 0 14.9 4H8Z" fill="#e33b2e"/><circle cx="8" cy="8" r="3.7" fill="#fff"/><circle cx="8" cy="8" r="2.9" fill="#4285f4"/><rect x="9" y="9" width="7" height="7" rx="1" fill="#f2dc8a"/></svg>
  <div class="tb-item" style="left:139px">Google Chrome</div>
  <svg class="abs" style="left:280px;top:7px" width="16" height="16" viewBox="0 0 16 16"><rect width="16" height="16" fill="#0a0616"/><path d="M8 3.2C10 6 12.4 8 12.4 10.4C12.4 12.6 10.4 13.6 8 13.6C5.6 13.6 3.6 12.6 3.6 10.4C3.6 8 6 6 8 3.2Z" fill="#3b2fc0"/></svg>
  <div class="tb-item" style="left:300px">Voltix</div>
  <svg class="abs" style="left:441px;top:7px" width="16" height="16" viewBox="0 0 16 16"><circle cx="8" cy="8" r="8" fill="#fbc116"/><path d="M8 8L1.1 4A8 8 0 0 1 14.9 4Z" fill="#e33b2e"/><path d="M8 8L1.1 4A8 8 0 0 0 8 16Z" fill="#2da94f"/><path d="M8 8H15.6A8 8 0 0 0 14.9 4H8Z" fill="#e33b2e"/><circle cx="8" cy="8" r="3.7" fill="#fff"/><circle cx="8" cy="8" r="2.9" fill="#4285f4"/><circle cx="12" cy="12" r="4" fill="#1e9e5a"/></svg>
  <div class="tb-item" style="left:461px">3DOS - Run a 3DOS<span style="font-size:9.5px;vertical-align:1px">™</span> ...</div>
  <svg class="abs" style="left:602px;top:7px" width="16" height="16" viewBox="0 0 16 16"><circle cx="8" cy="8" r="8" fill="#fbc116"/><path d="M8 8L1.1 4A8 8 0 0 1 14.9 4Z" fill="#e33b2e"/><path d="M8 8L1.1 4A8 8 0 0 0 8 16Z" fill="#2da94f"/><path d="M8 8H15.6A8 8 0 0 0 14.9 4H8Z" fill="#e33b2e"/><circle cx="8" cy="8" r="3.7" fill="#fff"/><circle cx="8" cy="8" r="2.9" fill="#4285f4"/><circle cx="12" cy="12" r="4" fill="#444"/></svg>
  <div class="tb-item" style="left:622px">Naoris- 3D Dashboar...</div>
  <svg class="abs" style="left:763px;top:7px" width="16" height="16" viewBox="0 0 16 16"><circle cx="8" cy="8" r="7.6" fill="#2fa3dc"/><path d="M3.2 7.8L12 4.2L10.6 11.8L7.8 9.8L6.6 11.2L6.4 9L10.4 5.6L5.6 8.6Z" fill="#fff"/></svg>
  <div class="tb-item" style="left:783px">Mini App: NodeGo Bot</div>
  <svg class="abs" style="left:922px;top:7px" width="17" height="17" viewBox="0 0 17 17"><circle cx="8" cy="8" r="7.6" fill="#2fa3dc"/><path d="M3.2 7.8L12 4.2L10.6 11.8L7.8 9.8L6.6 11.2L6.4 9L10.4 5.6L5.6 8.6Z" fill="#fff"/><rect x="5" y="8.6" width="12" height="8.4" rx="2" fill="#e53935"/><text x="11.2" y="15.4" text-anchor="middle" font-family="Liberation Sans, sans-serif" font-size="6.5" fill="#fff">..0</text></svg>
  <div class="tb-item" style="left:943px">Depin Node ♤ @ 🐼 ...</div>
  <div class="tb-ul" style="left:111px;width:156px"></div>
  <div class="tb-ul" style="left:276px;width:152px"></div>
  <div class="tb-ul" style="left:437px;width:152px"></div>
  <div class="tb-ul" style="left:598px;width:152px"></div>
  <div class="tb-ul" style="left:759px;width:152px"></div>
  <div class="tb-ul" style="left:919px;width:152px"></div>
  <!-- tray -->
  <svg class="abs" style="left:1680px;top:9px" width="14" height="12" viewBox="0 0 14 12"><path d="M1 8.6L7 2.8L13 8.6" stroke="#fff" stroke-width="1.3" fill="none"/></svg>
  <svg class="abs" style="left:1702px;top:6px" width="18" height="18" viewBox="0 0 18 18"><ellipse cx="10" cy="9.6" rx="7.2" ry="4.6" transform="rotate(42 10 9.6)" fill="#15151a" stroke="#c8c8cc" stroke-width="0.9"/><circle cx="6" cy="12.6" r="3.2" fill="#d8d8dc"/><circle cx="7.2" cy="11" r="1.6" fill="#f2f2f2"/><circle cx="5.2" cy="13.4" r="1.1" fill="#555"/></svg>
  <svg class="abs" style="left:1727px;top:8px" width="17" height="15" viewBox="0 0 17 15"><rect x="3.6" y="1.6" width="12.6" height="8.8" fill="none" stroke="#fff" stroke-width="1.1"/><path d="M7 13.6H13M10 10.6V13.6" stroke="#fff" stroke-width="1.1"/><rect x="0.6" y="3.4" width="3.2" height="4" fill="#0f3a38" stroke="#fff" stroke-width="1"/><path d="M2.2 7.4V12" stroke="#fff" stroke-width="1"/></svg>
  <svg class="abs" style="left:1751px;top:8px" width="17" height="14" viewBox="0 0 17 14"><path d="M0.8 4.8H3.4L6.6 1.6V12.4L3.4 9.2H0.8Z" fill="none" stroke="#fff" stroke-width="1.1"/><path d="M10 4.4L15.2 9.6M15.2 4.4L10 9.6" stroke="#fff" stroke-width="1.2"/></svg>
  <div class="tb-item" style="left:1781px;font-size:11px;letter-spacing:-0.5px">VIE</div>
  <div class="tb-item" style="left:1814.5px;font-size:11.5px;letter-spacing:-0.55px">10:03 SA</div>
  <svg class="abs" style="left:1878px;top:7px" width="17" height="17" viewBox="0 0 17 17"><path d="M0.5 0.5H16.5V12.5H11L8.5 15.5L6 12.5H0.5Z" fill="#fff"/><path d="M3.2 4H13.8M3.2 6.5H13.8M3.2 9H10.4" stroke="#0f3835" stroke-width="1.25"/></svg>
  <div class="abs" style="left:1914px;top:4px;width:1px;height:26px;background:#5a7a78"></div>
</div>

<!-- ================= floating button + watermark ================= -->
<div class="abs" style="left:1849px;top:866px;width:45px;height:45px;border-radius:50%;background:radial-gradient(circle at 35% 40%,#6a6a6a 0%,#3c3c3c 60%,#232323 100%)">
  <svg class="abs" style="left:8px;top:13px" width="30" height="18" viewBox="0 0 30 18"><g fill="#c9c9c9"><rect x="8" y="0" width="6" height="6"/><rect x="2" y="6" width="6" height="6"/><rect x="14" y="6" width="6" height="6"/></g><rect x="20" y="10" width="8" height="6" fill="#e0662a"/><rect x="0" y="11" width="6" height="5" fill="#aaa"/></svg>
</div>
<div class="t" style="left:1751px;top:928.5px;font-size:16px;line-height:20px;color:#eeeef4;letter-spacing:0.08px">Hide IP Address</div>
<div class="abs" style="left:1679px;top:921px;width:52px;height:30px;border-radius:15px;background:#16131f"></div>
<div class="abs" style="left:1682px;top:924px;width:24px;height:24px;border-radius:50%;background:#0d0a16"></div>

<div id="wm" class="abs" style="left:1599px;top:858px;width:287px;height:115px;border-radius:30px 30px 38px 42px;background:rgba(28,96,155,0.71);overflow:hidden">
  <svg class="abs" style="left:0;top:0" width="287" height="115" viewBox="0 0 287 115">
    <defs>
      <linearGradient id="gdol" x1="0" y1="0" x2="1" y2="1"><stop offset="0.1" stop-color="#5fd07a"/><stop offset="0.95" stop-color="#d8c018"/></linearGradient>
      <linearGradient id="gmm" x1="0" y1="0" x2="1" y2="0"><stop offset="0" stop-color="#7fca8c"/><stop offset="0.55" stop-color="#5fb0b0"/><stop offset="1" stop-color="#4a8fe0"/></linearGradient>
      <linearGradient id="ga1" x1="1" y1="0" x2="0" y2="1"><stop offset="0" stop-color="#b04a6a" stop-opacity="0.25"/><stop offset="1" stop-color="#e0486a"/></linearGradient>
      <linearGradient id="ga2" x1="0" y1="1" x2="1" y2="0"><stop offset="0" stop-color="#b04a6a" stop-opacity="0.25"/><stop offset="1" stop-color="#e0486a"/></linearGradient>
      <path id="star" d="M0 -5.8L1.7 -1.9L5.8 -1.6L2.7 1.1L3.6 5.2L0 3L-3.6 5.2L-2.7 1.1L-5.8 -1.6L-1.7 -1.9Z"/>
    </defs>
    <path d="M54 21C30 22 17 40 18 60" fill="none" stroke="url(#ga1)" stroke-width="3" stroke-linecap="round"/>
    <path d="M12.5 54L18 62L24.5 56" fill="none" stroke="#e0486a" stroke-width="2.6" stroke-linecap="round" stroke-linejoin="round"/>
    <path d="M60 93C82 92 95 76 96 55" fill="none" stroke="url(#ga2)" stroke-width="3" stroke-linecap="round"/>
    <path d="M90 61L96 53L102 60" fill="none" stroke="#e0486a" stroke-width="2.6" stroke-linecap="round" stroke-linejoin="round"/>
    <g fill="#e3c95a">
      <use href="#star" x="68.5" y="19"/>
      <use href="#star" x="86" y="27.5"/>
      <use href="#star" x="96" y="42.5"/>
      <use href="#star" x="21" y="72.5"/>
      <use href="#star" x="31" y="89"/>
      <use href="#star" x="49" y="97"/>
    </g>
    <text x="58.6" y="73.6" text-anchor="middle" font-family="Liberation Sans, sans-serif" font-weight="700" font-size="52" fill="url(#gdol)" stroke="url(#gdol)" stroke-width="1.6" stroke-linejoin="round">$</text>
    <text x="113.4" y="65.1" font-family="DejaVu Sans, Liberation Sans, sans-serif" font-weight="700" font-size="29.4" textLength="160" lengthAdjust="spacingAndGlyphs" fill="#d5d5d9" stroke="#d5d5d9" stroke-width="0.5">MMO4ME</text>
    <text x="113.6" y="87.2" font-family="Liberation Sans, sans-serif" font-size="16.6" textLength="159" lengthAdjust="spacingAndGlyphs" fill="url(#gmm)" fill-opacity="0.85">Make money online</text>
  </svg>
</div>

</body>
</html>
